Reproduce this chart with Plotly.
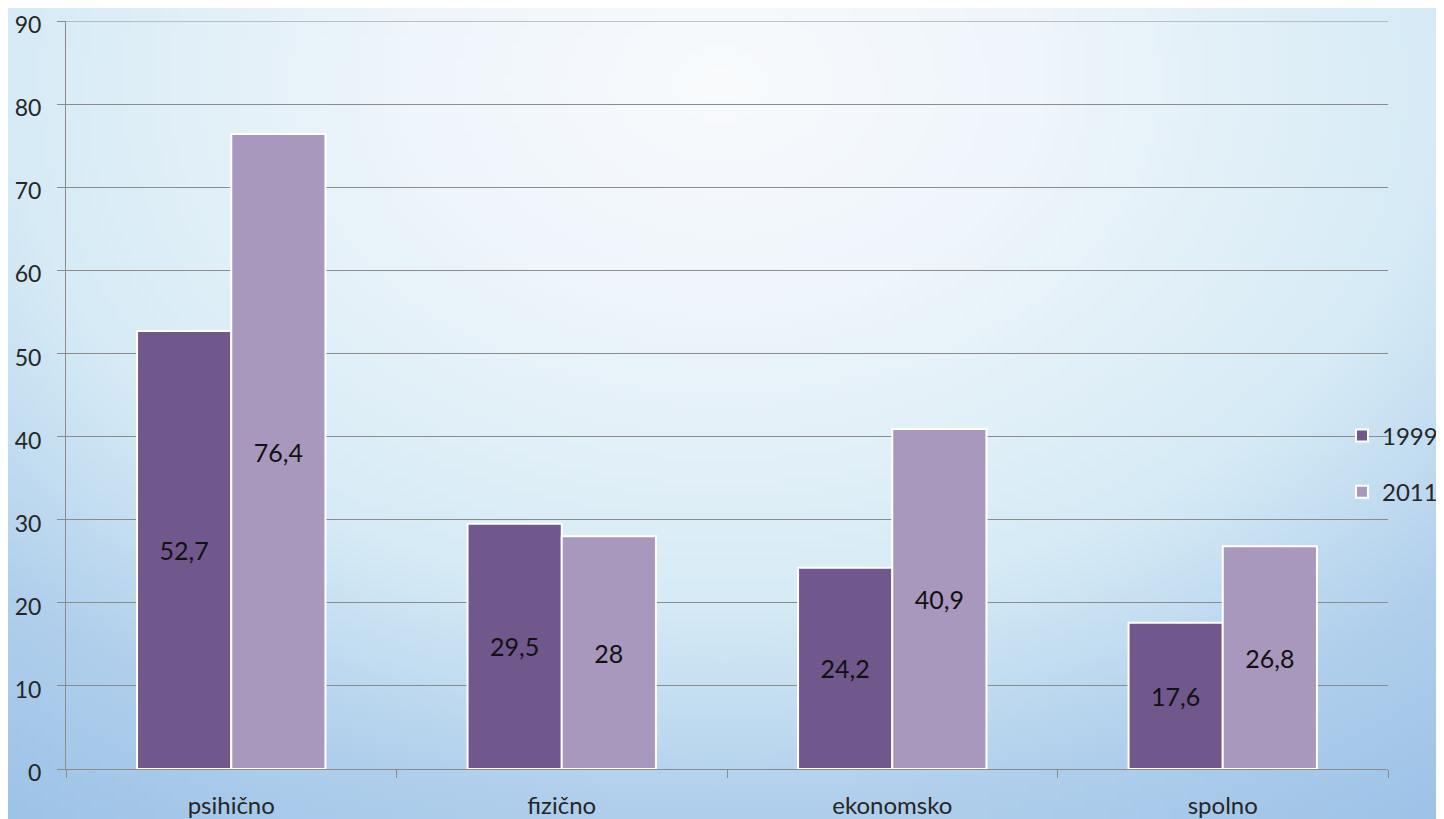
import base64
import struct
import zlib

import numpy as np
import plotly.graph_objects as go

# ---- data ----
categories = ["psihično", "fizično", "ekonomsko", "spolno"]
values_1999 = [52.7, 29.5, 24.2, 17.6]
values_2011 = [76.4, 28, 40.9, 26.8]
series_names = ["1999", "2011"]
y_ticks = [0, 10, 20, 30, 40, 50, 60, 70, 80, 90]

OFF = 8  # page body margin
W, H = 1444 - OFF, 819 - OFF
FONT = "Lato"


def fmt(v):
    s = ("%g" % v)
    return s.replace(".", ",")


def png_uri(arr):
    h, w, _ = arr.shape
    raw = b"".join(b"\x00" + arr[i].tobytes() for i in range(h))

    def chunk(tag, data):
        c = struct.pack(">I", len(data)) + tag + data
        return c + struct.pack(">I", zlib.crc32(tag + data) & 0xFFFFFFFF)

    png = b"\x89PNG\r\n\x1a\n"
    png += chunk(b"IHDR", struct.pack(">IIBBBBB", w, h, 8, 2, 0, 0, 0))
    png += chunk(b"IDAT", zlib.compress(raw, 9))
    png += chunk(b"IEND", b"")
    return "data:image/png;base64," + base64.b64encode(png).decode()


# background radial gradient (decoration only)
gw, gh = 181, 103
xs = np.linspace(OFF, 1444, gw)
ys = np.linspace(OFF, 819, gh)
X, Y = np.meshgrid(xs, ys)
d = np.sqrt(((X - 722) / 1100.0) ** 2 + ((Y - 80) / 800.0) ** 2)
stops = [0.0, 0.3, 0.66, 0.92, 1.15, 1.5]
cols = np.array([
    [249, 251, 253],
    [238, 245, 251],
    [214, 235, 246],
    [176, 207, 236],
    [156, 194, 231],
    [150, 190, 229],
], dtype=float)
img = np.zeros((gh, gw, 3))
for c in range(3):
    img[..., c] = np.interp(d, stops, cols[:, c])
bg_uri = png_uri(np.clip(img, 0, 255).astype(np.uint8))

fig = go.Figure()
fig.add_trace(go.Bar(
    name=series_names[0], x=categories, y=values_1999,
    text=[fmt(v) for v in values_1999],
    marker=dict(color="#70578c", line=dict(color="white", width=2)),
    legendgroup="a",
))
fig.add_trace(go.Bar(
    name=series_names[1], x=categories, y=values_2011,
    text=[fmt(v) for v in values_2011],
    marker=dict(color="#a898be", line=dict(color="white", width=2)),
    legendgroup="b",
))
fig.update_traces(
    textposition="inside", insidetextanchor="middle",
    textfont=dict(family=FONT, size=25, color="#111111"),
    textangle=0, hoverinfo="skip",
)

x0, x1 = (66 - OFF) / W, (1388 - OFF) / W
y0, y1 = 1 - (769 - OFF) / H, 1 - (21 - OFF) / H

# top gridline (plotly drops the grid line lying on the range edge)
fig.add_shape(type="line", xref="paper", yref="y", x0=x0, x1=x1,
              y0=y_ticks[-1], y1=y_ticks[-1],
              line=dict(color="#8c8c8c", width=1), layer="below")

fig.update_layout(
    width=W, height=H,
    margin=dict(l=0, r=0, t=0, b=0, pad=0),
    paper_bgcolor="#dcedf7",
    plot_bgcolor="rgba(0,0,0,0)",
    barmode="group", bargap=0.43, bargroupgap=0.0,
    font=dict(family=FONT, size=24, color="#262626"),
    images=[dict(source=bg_uri, xref="paper", yref="paper", x=0, y=1,
                 sizex=1, sizey=1, sizing="stretch", layer="below",
                 xanchor="left", yanchor="top")],
    xaxis=dict(domain=[x0, x1], tickson="boundaries", ticks="outside",
               ticklen=8, tickcolor="#8c8c8c", showline=True,
               linecolor="#8c8c8c", linewidth=1, showgrid=False,
               automargin=False,
               tickfont=dict(size=24, color="#262626"),
               ticklabelstandoff=15),
    yaxis=dict(domain=[y0, y1], range=[0, 90], tickvals=y_ticks,
               ticks="outside", ticklen=8, tickcolor="#8c8c8c",
               showline=True, linecolor="#8c8c8c", linewidth=1,
               showgrid=True, gridcolor="#8c8c8c", gridwidth=1,
               zeroline=False, automargin=False,
               ticklabeloverflow="allow", ticklabelshift=4,
               tickfont=dict(size=23, color="#262626"),
               ticklabelstandoff=11),
    legend=dict(x=(1342 - OFF) / W, y=1 - (464 - OFF) / H, xanchor="left",
                yanchor="middle", bgcolor="rgba(0,0,0,0)", tracegroupgap=22,
                font=dict(size=24, color="#262626")),
    showlegend=True,
)

fig.write_html("out.html")
